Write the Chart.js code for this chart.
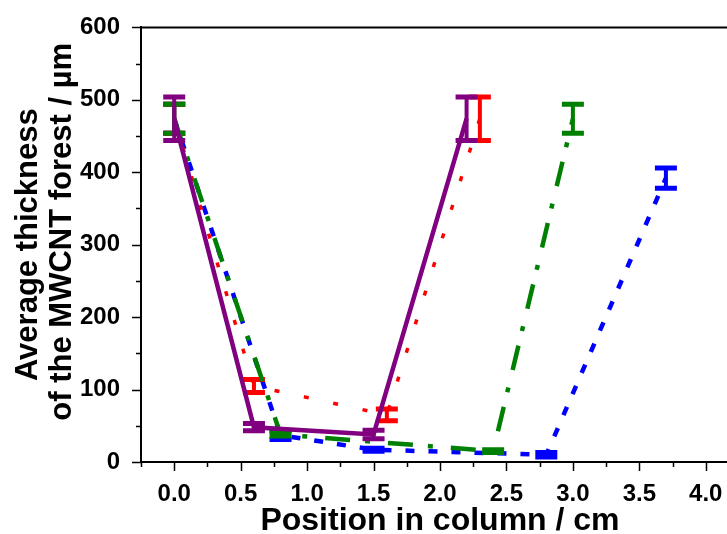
<!DOCTYPE html>
<html>
<head>
<meta charset="utf-8">
<script src="https://cdn.jsdelivr.net/npm/chart.js@4/dist/chart.umd.min.js"></script>
<style>
  html, body { margin: 0; padding: 0; background: #fff; overflow: hidden; }
  #wrap { width: 727px; height: 534px; overflow: hidden; }
</style>
</head>
<body>
<div id="wrap"><canvas id="c" width="760" height="534"></canvas></div>
<script>
// Position along the column (cm), mean forest thickness (µm) and error half-widths
const purpleX = [0.0, 0.6, 1.5, 2.2];
const purpleY = [474, 48, 38, 474];
const purpleErr = [30, 5, 6, 30];

const redX = [0.0, 0.6, 1.6, 2.3];
const redY = [474, 105, 65, 474];
const redErr = [20, 9, 8, 30];

const greenX = [0.0, 0.8, 2.4, 3.0];
const greenY = [474, 38, 15, 474];
const greenErr = [20, 2, 2, 20];

const blueX = [0.0, 0.8, 1.5, 2.8, 3.7];
const blueY = [474, 37, 17, 10, 392];
const blueErr = [20, 6, 2, 3, 14];

const yTickValues = [0, 100, 200, 300, 400, 500, 600];
const xTickValues = [0.0, 0.5, 1.0, 1.5, 2.0, 2.5, 3.0, 3.5, 4.0];

const FONT = '"Liberation Sans", Arial, sans-serif';

function pts(xs, ys) { return xs.map((x, i) => ({ x: x, y: ys[i] })); }

function series(label, xs, ys, errs, color, width, dash) {
  return {
    label: label,
    data: pts(xs, ys),
    errors: errs,
    showLine: true,
    borderColor: color,
    backgroundColor: color,
    borderWidth: width,
    borderDash: dash,
    borderCapStyle: 'butt',
    pointRadius: 0,
    pointHoverRadius: 0,
    tension: 0
  };
}

// Vertical error bars with flat caps, drawn right after each dataset's line
const errorBars = {
  id: 'errorBars',
  afterDatasetDraw(chart, args) {
    const ds = chart.data.datasets[args.index];
    const xs = chart.scales.x, ys = chart.scales.y;
    const ctx = chart.ctx;
    ctx.save();
    ctx.strokeStyle = ds.borderColor;
    ctx.setLineDash([]);
    ctx.lineCap = 'butt';
    ds.data.forEach((p, i) => {
      const e = ds.errors[i];
      const px = xs.getPixelForValue(p.x);
      const top = ys.getPixelForValue(p.y + e);
      const bot = ys.getPixelForValue(p.y - e);
      ctx.lineWidth = 4;
      ctx.beginPath();
      ctx.moveTo(px, top);
      ctx.lineTo(px, bot);
      ctx.stroke();
      ctx.lineWidth = 5;
      ctx.beginPath();
      ctx.moveTo(px - 11, top);
      ctx.lineTo(px + 11, top);
      ctx.moveTo(px - 11, bot);
      ctx.lineTo(px + 11, bot);
      ctx.stroke();
    });
    ctx.restore();
  }
};

// Outward major/minor tick marks and the top frame line
const frame = {
  id: 'frame',
  afterDraw(chart) {
    const ctx = chart.ctx;
    const xs = chart.scales.x, ys = chart.scales.y;
    const a = chart.chartArea;
    ctx.save();
    ctx.strokeStyle = '#000';
    ctx.lineWidth = 2;
    ctx.beginPath();
    ctx.moveTo(a.left, a.top);
    ctx.lineTo(a.right + 30, a.top);
    ctx.stroke();
    ctx.lineWidth = 1.5;
    ctx.beginPath();
    for (let v = 0; v <= 600; v += 50) {
      const py = Math.round(ys.getPixelForValue(v)) + 0.5;
      const len = (v % 100 === 0) ? 9 : 5;
      ctx.moveTo(a.left, py);
      ctx.lineTo(a.left - len, py);
    }
    for (let k = -1; k <= 18; k++) {
      const v = k * 0.25;
      const px = Math.round(xs.getPixelForValue(v)) + 0.5;
      const len = (k % 2 === 0) ? 9 : 5;
      ctx.moveTo(px, a.bottom);
      ctx.lineTo(px, a.bottom + len);
    }
    ctx.stroke();
    ctx.restore();
  }
};

new Chart(document.getElementById('c'), {
  type: 'scatter',
  data: {
    datasets: [
      series('purple', purpleX, purpleY, purpleErr, '#800080', 4.5, []),
      series('green', greenX, greenY, greenErr, '#008000', 4.5, [25, 15, 5, 18]),
      series('red', redX, redY, redErr, '#FF0000', 3.5, [5, 25]),
      series('blue', blueX, blueY, blueErr, '#0000FF', 4.5, [9, 14])
    ]
  },
  options: {
    responsive: false,
    animation: false,
    events: [],
    layout: { padding: { top: 26, right: 21, left: 0, bottom: 0 } },
    plugins: { legend: { display: false }, tooltip: { enabled: false } },
    scales: {
      x: {
        type: 'linear',
        min: -0.25,
        max: 4.25,
        afterFit(s) { s.height = 72; },
        afterBuildTicks(s) { s.ticks = xTickValues.map(v => ({ value: v })); },
        grid: { display: false },
        border: { display: true, color: '#000', width: 2 },
        ticks: {
          padding: 10,
          color: '#000',
          font: { family: FONT, size: 24, weight: 'bold' },
          callback: v => Number(v).toFixed(1)
        },
        title: {
          display: true,
          text: 'Position in column / cm',
          color: '#000',
          font: { family: FONT, size: 32, weight: 'bold', lineHeight: 1.0 },
          padding: { top: 0, bottom: -3 }
        }
      },
      y: {
        type: 'linear',
        min: 0,
        max: 600,
        afterFit(s) { s.width = 141; },
        afterBuildTicks(s) { s.ticks = yTickValues.map(v => ({ value: v })); },
        grid: { display: false },
        border: { display: true, color: '#000', width: 2 },
        ticks: {
          padding: 13,
          color: '#000',
          font: { family: FONT, size: 24, weight: 'bold' },
          callback: v => String(v)
        },
        title: {
          display: true,
          text: ['Average thickness', '\u00a0\u00a0\u00a0of the MWCNT forest / µm'],
          color: '#000',
          font: { family: FONT, size: 31, weight: 'bold', lineHeight: 1.1 },
          padding: { top: 11, bottom: 0 }
        }
      }
    }
  },
  plugins: [errorBars, frame]
});
</script>
</body>
</html>
